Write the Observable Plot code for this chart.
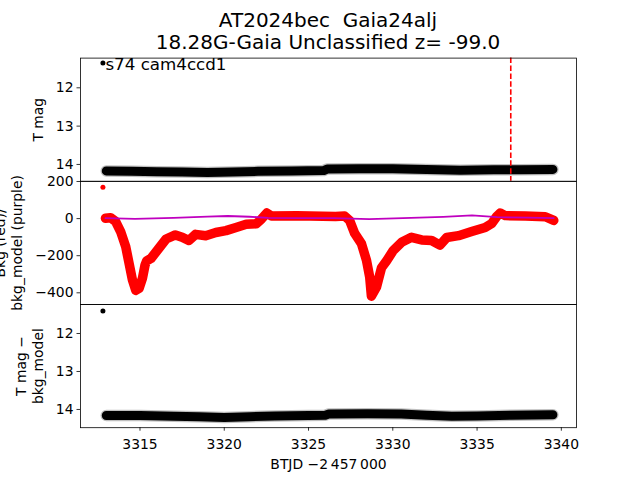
<!DOCTYPE html>
<html><head><meta charset="utf-8">
<script src="https://cdn.jsdelivr.net/npm/d3@7"></script>
<script src="https://cdn.jsdelivr.net/npm/@observablehq/plot@0.6"></script>
<style>
body{margin:0;background:#fff;}
#wrap{position:relative;width:640px;height:480px;overflow:hidden;font-family:"DejaVu Sans";background:#fff;}
#wrap svg{position:absolute;left:0;top:0;}
.title{position:absolute;left:0;width:656px;text-align:center;font-size:20px;line-height:21px;white-space:pre;color:#000;font-family:"DejaVu Sans";}
</style></head><body>
<div id="wrap">
<div class="title" style="top:10.3px">AT2024bec  Gaia24alj</div>
<div class="title" style="top:32px">18.28G-Gaia Unclassified z= -99.0</div>
</div>
<script>
// ---- data ----
const xTicks = [3315, 3320, 3325, 3330, 3335, 3340];
const magTicks = [12, 13, 14];
const bkgTicks = [-400, -200, 0, 200];
const dashTime = 3337.0;
const sectorLabel = "s74 cam4ccd1";

// outlier first point of each series
const outTime = 3312.8;
const outMag = 11.35;
const outBkg = 169;
const outMagCorr = 11.41;

// panel 1: T mag band
const magTime = [3313.0, 3314.5, 3316, 3317.5, 3319, 3320.5, 3322, 3324, 3325.9, 3326.1, 3328, 3330, 3332, 3334, 3336, 3337.5, 3339.5];
const magValue = [14.17, 14.18, 14.19, 14.20, 14.21, 14.20, 14.18, 14.17, 14.16, 14.12, 14.11, 14.11, 14.13, 14.15, 14.14, 14.14, 14.13];

// panel 2: background (red)
const bkgTime = [3312.95, 3313.25, 3313.55, 3313.85, 3314.15, 3314.35, 3314.55, 3314.75, 3314.95, 3315.15, 3315.3, 3315.4, 3315.65, 3315.95, 3316.25, 3316.55, 3317.1, 3317.5, 3317.9, 3318.3, 3318.9, 3319.5, 3320.1, 3320.7, 3321.3, 3321.9, 3322.2, 3322.52, 3322.8, 3324.3, 3326.6, 3327.14, 3327.44, 3327.74, 3328.14, 3328.44, 3328.63, 3328.73, 3329.03, 3329.33, 3329.63, 3330.02, 3330.52, 3331.11, 3331.71, 3332.3, 3332.8, 3333.2, 3333.9, 3334.68, 3335.48, 3335.87, 3336.17, 3336.37, 3336.67, 3337.86, 3339.05, 3339.55];
const bkgValue = [2, 5, -15, -70, -150, -240, -330, -387, -375, -320, -250, -228, -215, -180, -145, -110, -88, -100, -118, -85, -92, -75, -65, -48, -30, -28, -3, 30, 14, 15, 11, 14, -10, -80, -135, -225, -315, -418, -370, -265, -228, -173, -128, -101, -115, -118, -143, -102, -92, -70, -48, -26, 12, 30, 16, 14, 10, -10];

// panel 2: background model (purple)
const modelTime = [3312.95, 3314.7, 3317, 3319, 3320.2, 3321.5, 3322.6, 3324.5, 3326.5, 3328.6, 3330.6, 3333, 3334.7, 3336.2, 3338, 3339.55];
const modelValue = [2, -2, 4, 11, 14, 10, 4, 3, 2, -3, 2, 9, 17, 8, 5, 3];

// panel 3: T mag - bkg_model band
const corrTime = [3313.0, 3315, 3317, 3318.5, 3320, 3321.5, 3323, 3325, 3326, 3326.2, 3328.5, 3330.5, 3332, 3333.5, 3335, 3337, 3339.5];
const corrValue = [14.16, 14.16, 14.18, 14.19, 14.21, 14.19, 14.17, 14.16, 14.15, 14.12, 14.11, 14.12, 14.15, 14.18, 14.17, 14.15, 14.14];

// ---- build ----
const zip = (t, v) => t.map((x, i) => ({t: x, v: v[i]}));
const W = 640, H = 480, L = 80, R = 64;
const panels = [[57.6, 180.8], [180.8, 304], [304, 427.2]];
const xDomain = [3311.47, 3340.9];
const fmt = d => d < 0 ? "\u2212" + Math.abs(d) : String(d);
const FS = 13.9;

function panel(i, y, marks, showX) {
  const [t, b] = panels[i];
  return Plot.plot({
    width: W, height: H,
    marginLeft: L, marginRight: R, marginTop: t, marginBottom: H - b,
    style: {background: "transparent", fontFamily: "DejaVu Sans", fontSize: FS + "px", color: "black", overflow: "visible"},
    x: showX ? {domain: xDomain} : {domain: xDomain, axis: null},
    y: y,
    marks: marks
  });
}

const band = (data, w) => [
  Plot.line(data, {x: "t", y: "v", stroke: "black", strokeOpacity: 0.25, strokeWidth: w + 2.5, strokeLinecap: "round", strokeLinejoin: "round"}),
  Plot.line(data, {x: "t", y: "v", stroke: "black", strokeWidth: w, strokeLinecap: "round", strokeLinejoin: "round"})
];
const yAxis = (ticks) => Plot.axisY({ticks, tickSize: 3.5, tickPadding: 3.5, strokeWidth: 0.8, tickFormat: fmt, label: null});
const yLabel = (txt, dx) => Plot.text([txt], {frameAnchor: "left", rotate: -90, dx, textAnchor: "middle", lineAnchor: "bottom", lineHeight: 1.2, fontSize: FS, fill: "black"});
const frame = Plot.frame({stroke: "black", strokeWidth: 0.8});

const p1 = panel(0, {domain: [11.225, 14.44], reverse: true}, [
  ...band(zip(magTime, magValue), 9),
  Plot.dot([{t: outTime, v: outMag}], {x: "t", y: "v", r: 2.5, fill: "black"}),
  Plot.text([{t: outTime, v: outMag}], {x: "t", y: "v", text: () => sectorLabel, textAnchor: "start", lineAnchor: "middle", dx: 2.5, dy: 2, fontSize: 16.7, fill: "black"}),
  Plot.ruleX([dashTime], {stroke: "red", strokeWidth: 1.6, strokeDasharray: "5.5,2.4"}),
  frame,
  yAxis(magTicks),
  yLabel("T mag", -38)
], false);

const p2 = panel(1, {domain: [-463, 201]}, [
  Plot.line(zip(bkgTime, bkgValue), {x: "t", y: "v", stroke: "red", strokeWidth: 9.5, strokeLinecap: "round", strokeLinejoin: "round"}),
  Plot.dot([{t: outTime, v: outBkg}], {x: "t", y: "v", r: 2.5, fill: "red"}),
  Plot.line(zip(modelTime, modelValue), {x: "t", y: "v", stroke: "#bf00bf", strokeWidth: 1.8}),
  frame,
  yAxis(bkgTicks),
  yLabel("Bkg (red)/\nbkg_model (purple)", -58.5)
], false);

const p3 = panel(2, {domain: [11.237, 14.48], reverse: true}, [
  ...band(zip(corrTime, corrValue), 9),
  Plot.dot([{t: outTime, v: outMagCorr}], {x: "t", y: "v", r: 2.5, fill: "black"}),
  frame,
  yAxis(magTicks),
  Plot.axisX({ticks: xTicks, tickSize: 3.5, tickPadding: 7.5, strokeWidth: 0.8, tickFormat: d => String(d), label: null}),
  Plot.text(["BTJD \u22122\u2009457\u2009000"], {frameAnchor: "bottom", lineAnchor: "top", dy: 31, fontSize: FS, fill: "black"}),
  yLabel("T mag \u2212\nbkg_model", -38)
], true);

const wrap = document.getElementById("wrap");
wrap.appendChild(p1); wrap.appendChild(p2); wrap.appendChild(p3);
</script>
</body></html>
